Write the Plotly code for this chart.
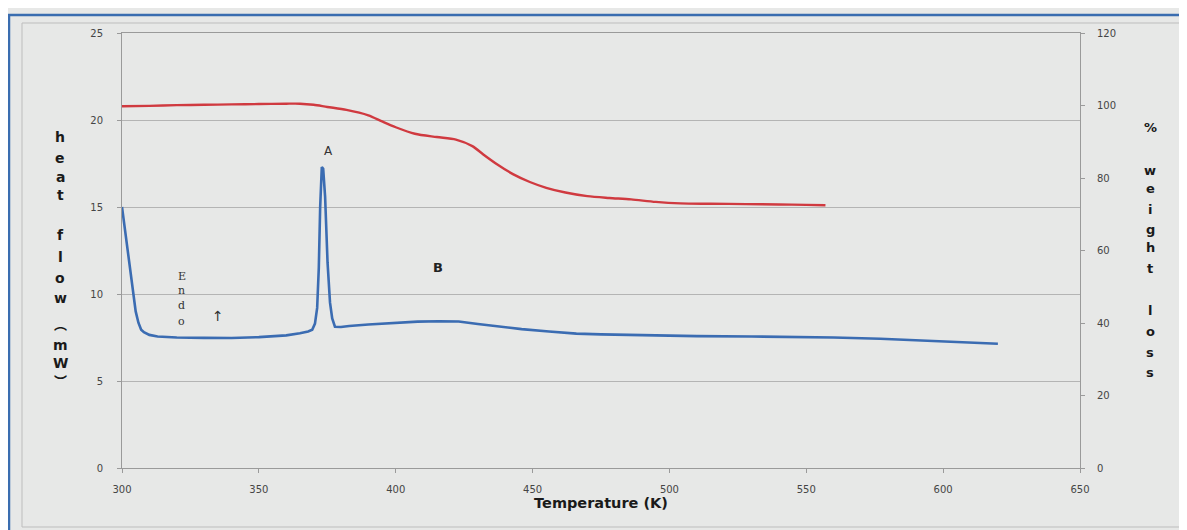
import plotly.graph_objects as go

# ---------------- data ----------------
temp_hf = [300, 301, 302, 303, 304, 305, 306, 307, 308, 310, 313, 316, 320, 330, 340, 350, 360, 365,
           368, 369.5, 370.5, 371.3, 371.9, 372.4, 373.0, 373.5, 374.2, 375.1, 376.0, 376.8, 377.8,
           380, 383, 390, 400, 408, 416, 423, 430, 438, 446, 456, 466, 475, 485, 498, 510, 530, 547,
           560, 577, 590, 601, 610, 620]
heat_flow = [15.0, 13.8, 12.4, 11.1, 9.9, 9.0, 8.35, 7.95, 7.8, 7.65, 7.56, 7.52, 7.5, 7.48, 7.47, 7.52,
             7.62, 7.74, 7.85, 7.95, 8.3, 9.2, 11.5, 15.0, 17.3, 17.2, 15.6, 11.8, 9.5, 8.6, 8.12,
             8.1, 8.16, 8.25, 8.34, 8.41, 8.43, 8.42, 8.28, 8.12, 7.98, 7.84, 7.72, 7.68, 7.64, 7.6,
             7.58, 7.56, 7.55, 7.5, 7.43, 7.35, 7.26, 7.2, 7.14]

temp_wt = [300, 310, 320, 330, 340, 350, 360, 365, 370, 375, 382, 390, 395, 400, 407, 415, 422, 428,
           432, 437, 443, 449, 455, 462, 470, 478, 486, 495, 504, 515, 528, 540, 550, 557]
weight_pct = [99.8, 99.9, 100.1, 100.2, 100.3, 100.4, 100.5, 100.5, 100.2, 99.6, 98.8, 97.3, 95.6,
              94.0, 92.2, 91.3, 90.6, 88.8, 86.5, 83.8, 81.0, 78.9, 77.3, 76.0, 75.0, 74.5, 74.1,
              73.4, 73.0, 72.9, 72.8, 72.7, 72.6, 72.5]

x_ticks = [300, 350, 400, 450, 500, 550, 600, 650]
y_ticks = [0, 5, 10, 15, 20, 25]
y2_ticks = [0, 20, 40, 60, 80, 100, 120]

left_title = ["h", "e", "a", "t", "f", "l", "o", "w", "︵", "m", "W", "︶"]
right_title = ["%", "w", "e", "i", "g", "h", "t", "l", "o", "s", "s"]
endo_letters = ["E", "n", "d", "o"]

# ---------------- layout geometry (screen pixels) ----------------
OFF = 8                      # default page margin of the browser body
SCREEN_W, SCREEN_H = 1187, 530
L, R, T, B = 122, 1080, 33, 468
pw, ph = R - L, B - T


def px(xp):
    return (xp - L) / pw


def py(yp):
    return (B - yp) / ph


left_title_y = [137, 158, 177, 195, 235, 257, 278, 298, 324, 345, 363, 381]
right_title_y = [128, 170, 188, 209, 229, 247, 268, 310, 331, 352, 372]
endo_y = [276, 290, 305, 321]

BG = "#e7e8e7"
GRID = "#b4b4b4"
AXIS = "#9a9a9a"
TICKFONT = dict(family="DejaVu Sans", size=10, color="#454545")

fig = go.Figure()
fig.add_trace(go.Scatter(x=temp_hf, y=heat_flow, mode="lines",
                         line=dict(color="#3b6cb2", width=2.6), yaxis="y", showlegend=False))
fig.add_trace(go.Scatter(x=temp_wt, y=weight_pct, mode="lines",
                         line=dict(color="#d03a40", width=2.4, shape="spline", smoothing=0.8),
                         yaxis="y2", showlegend=False))

annotations = []
for ch, yp in zip(left_title, left_title_y):
    is_paren = ch in ("︵", "︶")
    annotations.append(dict(text=ch, x=px(60), y=py(yp), xref="paper", yref="paper",
                            showarrow=False, xanchor="center", yanchor="middle",
                            font=dict(family="DejaVu Sans, Noto Sans CJK SC",
                                      size=13 if is_paren else 14,
                                      color="#1a1a1a", weight="bold")))
for ch, yp in zip(right_title, right_title_y):
    annotations.append(dict(text=ch, x=px(1150), y=py(yp), xref="paper", yref="paper",
                            showarrow=False, xanchor="center", yanchor="middle",
                            font=dict(family="DejaVu Sans", size=13, color="#1a1a1a",
                                      weight="bold")))

# in-plot labels
annotations.append(dict(text="A", x=375.4, y=18.2, xref="x", yref="y", showarrow=False,
                        font=dict(family="DejaVu Sans", size=12, color="#333333")))
annotations.append(dict(text="B", x=415.6, y=11.5, xref="x", yref="y", showarrow=False,
                        font=dict(family="DejaVu Sans", size=13, color="#222222", weight="bold")))
for ch, yp in zip(endo_letters, endo_y):
    annotations.append(dict(text=ch, x=321.9, y=(B - yp) / ph * 25, xref="x", yref="y",
                            showarrow=False,
                            font=dict(family="DejaVu Serif", size=11, color="#333333")))
annotations.append(dict(text="↑", x=335.2, y=8.75, xref="x", yref="y", showarrow=False,
                        font=dict(family="DejaVu Sans", size=14, color="#333333")))

shapes = [
    dict(type="rect", xref="paper", yref="paper", x0=px(9), x1=px(1200), y0=py(560), y1=py(15),
         line=dict(color="#3a6db0", width=2.5), fillcolor="rgba(0,0,0,0)", layer="below"),
    dict(type="rect", xref="paper", yref="paper", x0=px(22), x1=px(1183), y0=py(527), y1=py(23),
         line=dict(color="#bdbdbd", width=1), fillcolor="rgba(0,0,0,0)", layer="below"),
]

fig.update_layout(
    width=SCREEN_W - OFF, height=SCREEN_H - OFF,
    margin=dict(l=L - OFF, r=SCREEN_W - R, t=T - OFF, b=SCREEN_H - B, pad=0),
    paper_bgcolor=BG, plot_bgcolor=BG,
    showlegend=False,
    annotations=annotations,
    shapes=shapes,
    xaxis=dict(range=[300, 650], tickvals=x_ticks, ticktext=[str(v) for v in x_ticks],
               showgrid=False, zeroline=False, showline=True, linecolor=AXIS, linewidth=1,
               mirror=True,
               ticks="outside", ticklen=4, tickcolor=AXIS, tickfont=TICKFONT,
               ticklabelstandoff=8,
               title=dict(text="Temperature (K)", standoff=2,
                          font=dict(family="DejaVu Sans", size=14.5, color="#1a1a1a",
                                    weight="bold"))),
    yaxis=dict(range=[0, 25], tickvals=y_ticks, ticktext=[str(v) for v in y_ticks],
               showgrid=True, gridcolor=GRID, gridwidth=1, zeroline=False,
               showline=True, linecolor=AXIS, linewidth=1,
               ticks="outside", ticklen=4, tickcolor=AXIS, tickfont=TICKFONT,
               ticklabelstandoff=12),
    yaxis2=dict(range=[0, 120], tickvals=y2_ticks, ticktext=[str(v) for v in y2_ticks],
                overlaying="y", side="right", showgrid=False, zeroline=False,
                showline=True, linecolor=AXIS, linewidth=1,
                ticks="outside", ticklen=4, tickcolor=AXIS, tickfont=TICKFONT,
                ticklabelstandoff=10),
)

fig.write_html("out.html")
